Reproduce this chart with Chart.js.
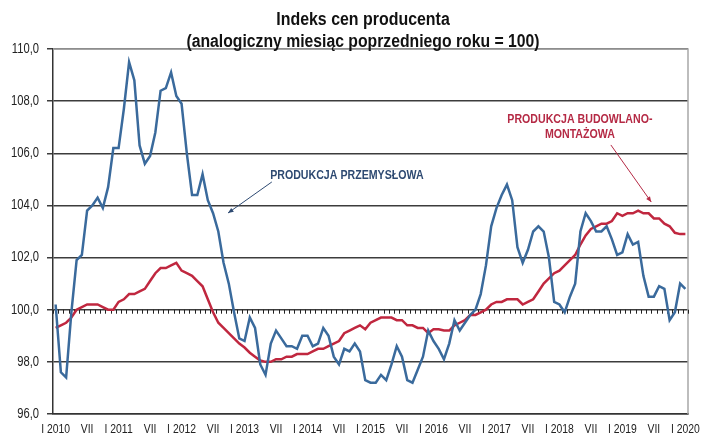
<!DOCTYPE html>
<html>
<head>
<meta charset="utf-8">
<script src="https://cdn.jsdelivr.net/npm/chart.js@4"></script>
<style>
  html, body { margin: 0; padding: 0; background: #fff; }
  #wrap { width: 718px; height: 434px; }
</style>
</head>
<body>
<div id="wrap"><canvas id="ppi-chart" width="718" height="434"></canvas></div>
<script>
// Indeks cen producenta - monthly, I 2010 .. I 2020

var romanMonths = ['I','II','III','IV','V','VI','VII','VIII','IX','X','XI','XII'];
var firstYear = 2010;
var monthCount = 121;

// Produkcja przemyslowa
var industryValues = [
  100.2, 97.6, 97.4, 99.9, 101.9, 102.1, 103.8, 104.0, 104.3, 103.9, 104.7, 106.2,
  106.2, 107.7, 109.5, 108.8, 106.3, 105.6, 105.9, 106.8, 108.4, 108.5, 109.1, 108.2,
  107.9, 106.0, 104.4, 104.4, 105.2, 104.2, 103.7, 103.0, 101.8, 101.0, 99.9, 98.9,
  98.8, 99.7, 99.3, 97.9, 97.5, 98.7, 99.2, 98.9, 98.6, 98.6, 98.5, 99.0,
  99.0, 98.6, 98.7, 99.3, 99.0, 98.2, 97.9, 98.5, 98.4, 98.7, 98.4, 97.3,
  97.2, 97.2, 97.5, 97.3, 97.9, 98.6, 98.2, 97.3, 97.2, 97.7, 98.2, 99.2,
  98.8, 98.5, 98.1, 98.7, 99.6, 99.2, 99.5, 99.8, 100.0, 100.6, 101.7, 103.2,
  103.9, 104.4, 104.8, 104.2, 102.4, 101.8, 102.3, 103.0, 103.2, 103.0, 102.0, 100.3,
  100.2, 99.9, 100.5, 101.0, 103.0, 103.7, 103.4, 103.0, 103.0, 103.2, 102.7, 102.1,
  102.2, 102.9, 102.5, 102.6, 101.3, 100.5, 100.5, 100.9, 100.8, 99.6, 99.9, 101.0,
  100.8
];

// Produkcja budowlano-montazowa
var constructionValues = [
  99.3, 99.4, 99.5, 99.7, 100.0, 100.1, 100.2, 100.2, 100.2, 100.1, 100.0, 100.0,
  100.3, 100.4, 100.6, 100.6, 100.7, 100.8, 101.1, 101.4, 101.6, 101.6, 101.7, 101.8,
  101.5, 101.4, 101.3, 101.1, 100.9, 100.4, 99.9, 99.5, 99.3, 99.1, 98.9, 98.7,
  98.55, 98.35, 98.2, 98.05, 98.0, 98.0, 98.1, 98.1, 98.2, 98.2, 98.3, 98.3,
  98.3, 98.4, 98.5, 98.5, 98.6, 98.7, 98.8, 99.1, 99.2, 99.3, 99.4, 99.25,
  99.5, 99.6, 99.7, 99.7, 99.7, 99.6, 99.6, 99.4, 99.4, 99.3, 99.3, 99.1,
  99.25, 99.25, 99.2, 99.2, 99.4, 99.5, 99.6, 99.8, 99.8, 99.9, 100.0, 100.2,
  100.3, 100.3, 100.4, 100.4, 100.4, 100.2, 100.3, 100.4, 100.7, 101.0, 101.2, 101.4,
  101.5, 101.7, 101.9, 102.1, 102.5, 102.85, 103.1, 103.2, 103.3, 103.3, 103.4, 103.7,
  103.6, 103.7, 103.7, 103.8, 103.7, 103.7, 103.5, 103.5, 103.3, 103.2, 102.95, 102.9,
  102.9
];

var yTicks = [96, 98, 100, 102, 104, 106, 108, 110];

// month labels: "I 2010", "II", ... only I and VII get shown
var monthLabels = [];
for (var m = 0; m < monthCount; m++) {
  var r = romanMonths[m % 12];
  monthLabels.push(m % 12 === 0 ? r + ' ' + (firstYear + Math.floor(m / 12)) : r);
}

var titleLines = ['Indeks cen producenta', '(analogiczny miesiąc poprzedniego roku = 100)'];

var sans = "'Liberation Sans', Arial, sans-serif";
var blueLine = '#3a6a9c';
var redLine = '#c0273f';

// annotations in data coords (category index, value)
var notes = [
  { lines: ['PRODUKCJA PRZEMYSŁOWA'], x: 55.5, y: 105.14, color: '#2e4a72',
    from: [41.2, 104.9], to: [32.85, 103.71] },
  { lines: ['PRODUKCJA BUDOWLANO-', 'MONTAŻOWA'], x: 99.9, y: 107.28, color: '#b52a45',
    from: [105.8, 106.32], to: [113.5, 104.13] }
];

// no narrow font installed, so squeeze the text horizontally like Arial Narrow
function narrowText(c, text, x, y, font, squeeze, align, baseline) {
  c.save();
  c.font = font;
  c.textAlign = align;
  c.textBaseline = baseline;
  c.translate(x, y);
  c.scale(squeeze, 1);
  c.fillText(text, 0, 0);
  c.restore();
}

var extras = {
  id: 'extras',
  beforeDatasetsDraw: function(chart) {
    var c = chart.ctx, a = chart.chartArea;
    var xs = chart.scales.x, ys = chart.scales.y;
    c.save();
    // light frame top / right
    c.strokeStyle = '#a8a8a8';
    c.lineWidth = 1.5;
    c.beginPath();
    c.moveTo(a.left, a.top);
    c.lineTo(a.right, a.top);
    c.lineTo(a.right, a.bottom);
    c.stroke();
    // category axis crossing at 100 with tick marks
    var y100 = ys.getPixelForValue(100);
    c.strokeStyle = '#222';
    c.lineWidth = 1;
    c.beginPath();
    for (var i = 0; i <= monthCount; i++) {
      var px = Math.round(xs.getPixelForValue(i - 0.5)) + 0.5;
      c.moveTo(px, y100);
      c.lineTo(px, y100 + 4);
    }
    c.stroke();
    c.restore();
  },
  afterDraw: function(chart) {
    var c = chart.ctx, a = chart.chartArea;
    var xs = chart.scales.x, ys = chart.scales.y;
    c.save();
    // title
    c.fillStyle = '#111';
    narrowText(c, titleLines[0], chart.width / 2 + 4, 24.5, 'bold 18px ' + sans, 0.885, 'center', 'alphabetic');
    narrowText(c, titleLines[1], chart.width / 2 + 4, 47, 'bold 18px ' + sans, 0.875, 'center', 'alphabetic');
    // y tick labels
    c.fillStyle = '#222';
    yTicks.forEach(function(v) {
      narrowText(c, v.toFixed(1).replace('.', ','), a.left - 14, ys.getPixelForValue(v),
        '14px ' + sans, 0.8, 'right', 'middle');
    });
    // x tick labels, every half year
    for (var i = 0; i < monthCount; i += 6) {
      narrowText(c, monthLabels[i], xs.getPixelForValue(i), a.bottom + 19,
        '13px ' + sans, 0.8, 'center', 'alphabetic');
    }
    // series notes with arrows
    notes.forEach(function(n) {
      c.fillStyle = n.color;
      var cx = xs.getPixelForValue(n.x), cy = ys.getPixelForValue(n.y);
      n.lines.forEach(function(t, k) {
        narrowText(c, t, cx, cy + k * 14.5, 'bold 12.5px ' + sans, 0.85, 'center', 'middle');
      });
      var x0 = xs.getPixelForValue(n.from[0]), y0 = ys.getPixelForValue(n.from[1]);
      var x1 = xs.getPixelForValue(n.to[0]), y1 = ys.getPixelForValue(n.to[1]);
      c.strokeStyle = n.color;
      c.lineWidth = 1;
      c.beginPath();
      c.moveTo(x0, y0);
      c.lineTo(x1, y1);
      c.stroke();
      var ang = Math.atan2(y1 - y0, x1 - x0), h = 6;
      c.beginPath();
      c.moveTo(x1, y1);
      c.lineTo(x1 - h * Math.cos(ang - 0.4), y1 - h * Math.sin(ang - 0.4));
      c.lineTo(x1 - h * Math.cos(ang + 0.4), y1 - h * Math.sin(ang + 0.4));
      c.closePath();
      c.fill();
    });
    c.restore();
  }
};

var ctx = document.getElementById('ppi-chart').getContext('2d');
var chart = new Chart(ctx, {
  type: 'line',
  data: {
    labels: monthLabels,
    datasets: [{
      label: 'Produkcja przemysłowa',
      data: industryValues,
      borderColor: blueLine,
      borderWidth: 2.5,
      pointRadius: 0,
      tension: 0,
      fill: false
    },
    {
      label: 'Produkcja budowlano-montażowa',
      data: constructionValues,
      borderColor: redLine,
      borderWidth: 2.5,
      pointRadius: 0,
      tension: 0,
      fill: false
    }]
  },
  options: {
    responsive: false,
    animation: false,
    devicePixelRatio: 1,
    layout: { padding: { left: 0, right: 30, top: 49, bottom: 0 } },
    plugins: {
      legend: { display: false },
      tooltip: { enabled: false },
      title: { display: false }
    },
    scales: {
      x: {
        offset: true,
        grid: { display: false },
        border: { display: true, color: '#333', width: 1.5 },
        ticks: { display: false },
        afterFit: function(s) { s.height = 20; }
      },
      y: {
        min: 96,
        max: 110,
        afterBuildTicks: function(s) { s.ticks = yTicks.map(function(v) { return { value: v }; }); },
        grid: { color: '#3c3c3c', lineWidth: 1.5, tickLength: 6, drawTicks: true },
        border: { display: true, color: '#333', width: 1.5 },
        ticks: { display: false },
        afterFit: function(s) { s.width = 53; }
      }
    }
  },
  plugins: [extras]
});
</script>
</body>
</html>
